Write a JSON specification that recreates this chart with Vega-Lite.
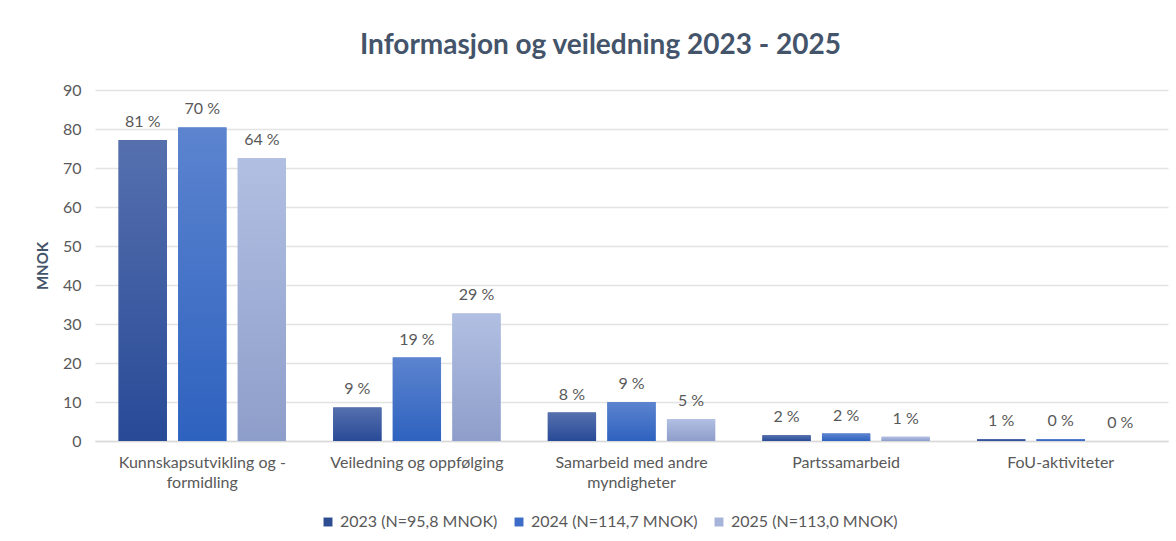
{
  "$schema": "https://vega.github.io/schema/vega-lite/v6.json",
  "width": 1073,
  "height": 351,
  "autosize": {"type": "none"},
  "padding": {"left": 95, "top": 90, "right": 8, "bottom": 100},
  "background": "white",
  "title": {
    "text": "Informasjon og veiledning 2023 - 2025",
    "font": "Lato",
    "fontSize": 28,
    "fontWeight": "bold",
    "color": "#44546A",
    "anchor": "middle",
    "frame": "group",
    "dx": -31,
    "offset": 22
  },
  "config": {
    "view": {"stroke": null},
    "font": "Lato"
  },
  "data": {
    "values": [
      {"kategori": "Kunnskapsutvikling og -formidling", "aar": "2023 (N=95,8 MNOK)", "mnok": 77.2, "andel": "81 %"},
      {"kategori": "Kunnskapsutvikling og -formidling", "aar": "2024 (N=114,7 MNOK)", "mnok": 80.4, "andel": "70 %"},
      {"kategori": "Kunnskapsutvikling og -formidling", "aar": "2025 (N=113,0 MNOK)", "mnok": 72.5, "andel": "64 %"},
      {"kategori": "Veiledning og oppfølging", "aar": "2023 (N=95,8 MNOK)", "mnok": 8.6, "andel": "9 %"},
      {"kategori": "Veiledning og oppfølging", "aar": "2024 (N=114,7 MNOK)", "mnok": 21.4, "andel": "19 %"},
      {"kategori": "Veiledning og oppfølging", "aar": "2025 (N=113,0 MNOK)", "mnok": 32.7, "andel": "29 %"},
      {"kategori": "Samarbeid med andre myndigheter", "aar": "2023 (N=95,8 MNOK)", "mnok": 7.3, "andel": "8 %"},
      {"kategori": "Samarbeid med andre myndigheter", "aar": "2024 (N=114,7 MNOK)", "mnok": 10.0, "andel": "9 %"},
      {"kategori": "Samarbeid med andre myndigheter", "aar": "2025 (N=113,0 MNOK)", "mnok": 5.6, "andel": "5 %"},
      {"kategori": "Partssamarbeid", "aar": "2023 (N=95,8 MNOK)", "mnok": 1.45, "andel": "2 %"},
      {"kategori": "Partssamarbeid", "aar": "2024 (N=114,7 MNOK)", "mnok": 1.9, "andel": "2 %"},
      {"kategori": "Partssamarbeid", "aar": "2025 (N=113,0 MNOK)", "mnok": 1.1, "andel": "1 %"},
      {"kategori": "FoU-aktiviteter", "aar": "2023 (N=95,8 MNOK)", "mnok": 0.5, "andel": "1 %"},
      {"kategori": "FoU-aktiviteter", "aar": "2024 (N=114,7 MNOK)", "mnok": 0.5, "andel": "0 %"},
      {"kategori": "FoU-aktiviteter", "aar": "2025 (N=113,0 MNOK)", "mnok": 0, "andel": "0 %"}
    ]
  },
  "encoding": {
    "x": {
      "field": "kategori",
      "type": "nominal",
      "sort": null,
      "scale": {
        "domain": ["Kunnskapsutvikling og -formidling", "Veiledning og oppfølging", "Samarbeid med andre myndigheter", "Partssamarbeid", "FoU-aktiviteter"],
        "paddingInner": 0.22, "paddingOuter": 0.11
      },
      "axis": {
        "title": null,
        "labelAngle": 0,
        "labelFont": "Lato",
        "labelFontSize": 16,
        "labelColor": "#595959",
        "labelPadding": 13,
        "labelLineHeight": 20,
        "ticks": false,
        "domain": true,
        "domainColor": "#D9D9D9",
        "domainWidth": 1.5,
        "labelExpr": "datum.label == 'Kunnskapsutvikling og -formidling' ? ['Kunnskapsutvikling og -', 'formidling'] : datum.label == 'Samarbeid med andre myndigheter' ? ['Samarbeid med andre', 'myndigheter'] : datum.label"
      }
    },
    "xOffset": {
      "field": "aar",
      "type": "nominal",
      "scale": {"paddingInner": 0.19, "domain": ["2023 (N=95,8 MNOK)", "2024 (N=114,7 MNOK)", "2025 (N=113,0 MNOK)"]}
    },
    "y": {
      "field": "mnok",
      "type": "quantitative",
      "scale": {"domain": [0, 90]},
      "axis": {
        "title": "MNOK",
        "titleFont": "Lato",
        "titleFontSize": 15,
        "titleFontWeight": "bold",
        "titleColor": "#44546A",
        "titlePadding": 12,
        "values": [0, 10, 20, 30, 40, 50, 60, 70, 80, 90],
        "labelFont": "Lato",
        "labelFontSize": 16,
        "labelColor": "#595959",
        "labelPadding": 14,
        "ticks": false,
        "domain": false,
        "grid": true,
        "gridColor": "#E3E3E3",
        "gridWidth": 1.5
      }
    }
  },
  "layer": [
    {
      "mark": {"type": "bar"},
      "encoding": {
        "color": {
          "field": "aar",
          "type": "nominal",
          "scale": {
            "domain": ["2023 (N=95,8 MNOK)", "2024 (N=114,7 MNOK)", "2025 (N=113,0 MNOK)"],
            "range": ["#2E4C92", "#3C6CC8", "#A6B4DA"]
          },
          "legend": {
            "title": null,
            "orient": "none",
            "legendX": 225,
            "legendY": 424,
            "direction": "horizontal",
            "symbolType": "square",
            "symbolSize": 80,
            "symbolStrokeWidth": 0,
            "labelFont": "Lato",
            "labelFontSize": 16,
            "labelColor": "#595959",
            "labelLimit": 400,
            "columnPadding": 13
          }
        }
      }
    },
    {
      "transform": [{"filter": "datum.aar == '2023 (N=95,8 MNOK)'"}],
      "mark": {"type": "bar", "color": {"gradient": "linear", "x1": 0, "y1": 0, "x2": 0, "y2": 1, "stops": [{"offset": 0, "color": "#5670AE"}, {"offset": 1, "color": "#284A97"}]}}
    },
    {
      "transform": [{"filter": "datum.aar == '2024 (N=114,7 MNOK)'"}],
      "mark": {"type": "bar", "color": {"gradient": "linear", "x1": 0, "y1": 0, "x2": 0, "y2": 1, "stops": [{"offset": 0, "color": "#5C84CF"}, {"offset": 1, "color": "#2E62BF"}]}}
    },
    {
      "transform": [{"filter": "datum.aar == '2025 (N=113,0 MNOK)'"}],
      "mark": {"type": "bar", "color": {"gradient": "linear", "x1": 0, "y1": 0, "x2": 0, "y2": 1, "stops": [{"offset": 0, "color": "#B1BFE2"}, {"offset": 1, "color": "#8E9ECA"}]}}
    },
    {
      "mark": {"type": "text", "dy": -18, "font": "Lato", "fontSize": 16, "color": "#595959"},
      "encoding": {"text": {"field": "andel", "type": "nominal"}}
    }
  ]
}
